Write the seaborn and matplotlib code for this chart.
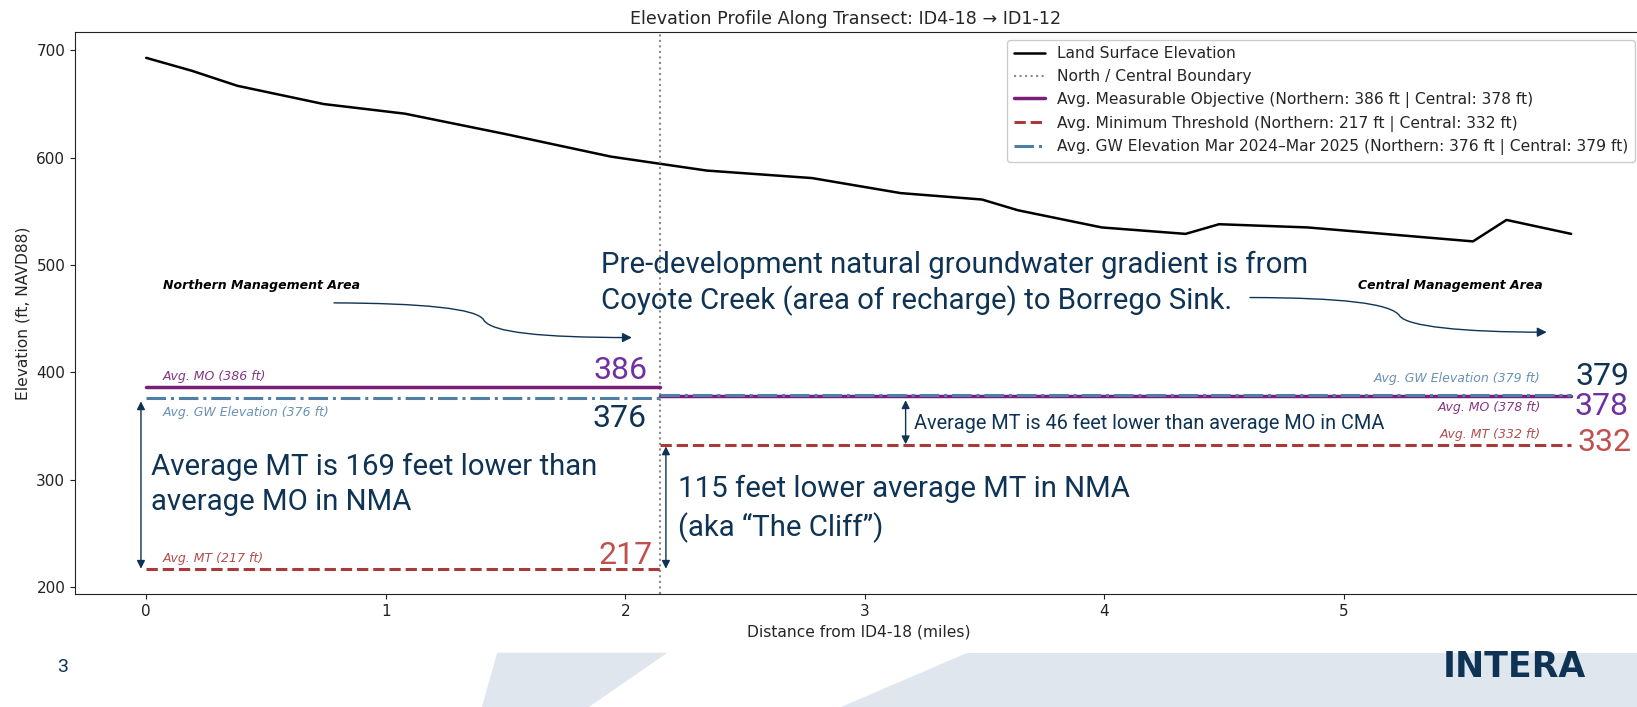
import matplotlib
matplotlib.use("Agg")
import matplotlib.pyplot as plt
import seaborn as sns
from matplotlib.patches import FancyArrowPatch, Polygon
from matplotlib.path import Path

# ---------------- data ----------------
distance_mi = [0.0, 0.19, 0.38, 0.74, 1.08, 1.50, 1.94, 2.34, 2.78, 3.15,
               3.49, 3.64, 3.99, 4.34, 4.48, 4.85, 5.54, 5.68, 5.95]
land_elev_ft = [693, 681, 667, 650, 641, 622, 601, 588, 581, 567,
                561, 551, 535, 529, 538, 535, 522, 542, 529]
boundary_mi = 2.145
areas = ["Northern", "Central"]
avg_mo = [386, 378]
avg_mt = [217, 332]
avg_gw = [376, 379]
x_ticks = [0, 1, 2, 3, 4, 5]
y_ticks = [200, 300, 400, 500, 600, 700]

# ---------------- style ----------------
sns.set_style("ticks")
plt.rcParams["font.family"] = ["DejaVu Sans"]

MO_C = "#7a1e78"
MT_C = "#a83a3a"
GW_C = "#4f7fa6"
NAVY = "#0E3354"
BIG_PURPLE = "#7030A0"
BIG_RED = "#C0504D"
SLIDE_FONT = ["Roboto", "DejaVu Sans"]

fig = plt.figure(figsize=(16.37, 7.07), dpi=100)
fig.patch.set_facecolor("white")

# slide decorations
fig.patches.append(Polygon([[0.3037, 0.0768], [0.4078, 0.0768], [0.3597, 0.0], [0.2944, 0.0]],
                           closed=True, transform=fig.transFigure, facecolor="#DFE6EE",
                           edgecolor="none", zorder=0))
fig.patches.append(Polygon([[0.5905, 0.0768], [1.0, 0.0768], [1.0, 0.0], [0.5136, 0.0]],
                           closed=True, transform=fig.transFigure, facecolor="#DFE6EE",
                           edgecolor="none", zorder=0))
fig.text(0.925, 0.057, "INTERA", color=NAVY, fontsize=25, family=["DejaVu Sans"],
         fontweight="bold", ha="center", va="center")
fig.text(0.0382, 0.057, "3", color=NAVY, fontsize=14, family=SLIDE_FONT,
         ha="center", va="center")

ax = fig.add_axes([0.0458, 0.1594, 0.9575, 0.7949])
for s in ax.spines.values():
    s.set_color("#222222")

# land surface
sns.lineplot(x=distance_mi, y=land_elev_ft, ax=ax, color="black", lw=1.8,
             label="Land Surface Elevation")
ax.axvline(boundary_mi, color="#8a8a8a", ls=":", lw=1.5, label="North / Central Boundary")

x_start = [distance_mi[0], boundary_mi]
x_end = [boundary_mi, distance_mi[-1]]

mo_label = f"Avg. Measurable Objective ({areas[0]}: {avg_mo[0]} ft | {areas[1]}: {avg_mo[1]} ft)"
mt_label = f"Avg. Minimum Threshold ({areas[0]}: {avg_mt[0]} ft | {areas[1]}: {avg_mt[1]} ft)"
gw_label = f"Avg. GW Elevation Mar 2024\u2013Mar 2025 ({areas[0]}: {avg_gw[0]} ft | {areas[1]}: {avg_gw[1]} ft)"

for i in range(2):
    ax.plot([x_start[i], x_end[i]], [avg_mo[i], avg_mo[i]], color=MO_C, lw=2.5,
            label=mo_label if i == 0 else None)
for i in range(2):
    ax.plot([x_start[i], x_end[i]], [avg_mt[i], avg_mt[i]], color=MT_C, lw=2.2, ls="--",
            label=mt_label if i == 0 else None)
for i in range(2):
    ax.plot([x_start[i], x_end[i]], [avg_gw[i], avg_gw[i]], color=GW_C, lw=2.2, ls="-.",
            label=gw_label if i == 0 else None)

ax.set_xlim(-0.2975, 6.2475)
ax.set_ylim(193.2, 716.8)
ax.set_xticks(x_ticks)
ax.set_yticks(y_ticks)
ax.tick_params(labelsize=11, colors="#222222")
ax.set_xlabel("Distance from ID4-18 (miles)", fontsize=11.2)
ax.set_ylabel("Elevation (ft, NAVD88)", fontsize=11.2)
ax.set_title("Elevation Profile Along Transect: ID4-18 \u2192 ID1-12", fontsize=12.6, x=0.4917)

leg = ax.legend(loc="upper right", fontsize=11.2, frameon=True, framealpha=1,
                edgecolor="#cccccc")

# small italic labels on lines
lx_left = 0.067
lx_right = 5.823
ax.text(lx_left, avg_mo[0] + 9.7, f"Avg. MO ({avg_mo[0]} ft)", color=MO_C, alpha=0.9,
        fontsize=9, style="italic", va="center", ha="left")
ax.text(lx_left, avg_gw[0] - 13.5, f"Avg. GW Elevation ({avg_gw[0]} ft)", color=GW_C, alpha=0.85,
        fontsize=9, style="italic", va="center", ha="left")
ax.text(lx_left, avg_mt[0] + 9.5, f"Avg. MT ({avg_mt[0]} ft)", color=MT_C, alpha=0.9,
        fontsize=9, style="italic", va="center", ha="left")
ax.text(lx_right, avg_gw[1] + 15.2, f"Avg. GW Elevation ({avg_gw[1]} ft)", color=GW_C, alpha=0.85,
        fontsize=9, style="italic", va="center", ha="right")
ax.text(lx_right, avg_mo[1] - 10.5, f"Avg. MO ({avg_mo[1]} ft)", color=MO_C, alpha=0.9,
        fontsize=9, style="italic", va="center", ha="right")
ax.text(lx_right, avg_mt[1] + 10.3, f"Avg. MT ({avg_mt[1]} ft)", color=MT_C, alpha=0.9,
        fontsize=9, style="italic", va="center", ha="right")

ax.text(0.068, 481, "Northern Management Area", fontsize=9, fontweight="bold",
        style="italic", va="center", ha="left", color="black")
ax.text(5.831, 481, "Central Management Area", fontsize=9, fontweight="bold",
        style="italic", va="center", ha="right", color="black")

# big numbers (slide overlay)
BIG = 23
ax.text(2.095, 402, f"{avg_mo[0]}", color=BIG_PURPLE, fontsize=BIG, family=SLIDE_FONT,
        ha="right", va="center")
ax.text(2.087, 357, f"{avg_gw[0]}", color=NAVY, fontsize=BIG, family=SLIDE_FONT,
        ha="right", va="center")
ax.text(2.115, 229.6, f"{avg_mt[0]}", color=BIG_RED, fontsize=BIG, family=SLIDE_FONT,
        ha="right", va="center")
ax.text(5.967, 395.7, f"{avg_gw[1]}", color=NAVY, fontsize=BIG, family=SLIDE_FONT,
        ha="left", va="center")
ax.text(5.965, 367.8, f"{avg_mo[1]}", color=BIG_PURPLE, fontsize=BIG, family=SLIDE_FONT,
        ha="left", va="center")
ax.text(5.978, 334.2, f"{avg_mt[1]}", color=BIG_RED, fontsize=BIG, family=SLIDE_FONT,
        ha="left", va="center")

# annotation texts
ax.text(1.90, 482.6, "Pre-development natural groundwater gradient is from\n"
        "Coyote Creek (area of recharge) to Borrego Sink.", color=NAVY, fontsize=21.2,
        family=SLIDE_FONT, ha="left", va="center", linespacing=1.25)
ax.text(0.02, 295.8, "Average MT is 169 feet lower than\naverage MO in NMA", color=NAVY,
        fontsize=21.2, family=SLIDE_FONT, ha="left", va="center", linespacing=1.33)
ax.text(2.22, 272.5, "115 feet lower average MT in NMA\n(aka \u201cThe Cliff\u201d)", color=NAVY,
        fontsize=21.2, family=SLIDE_FONT, ha="left", va="center", linespacing=1.4)
ax.text(3.207, 352.3, "Average MT is 46 feet lower than average MO in CMA", color=NAVY,
        fontsize=14.3, family=SLIDE_FONT, ha="left", va="center")

# double arrows
def darrow(x, y0, y1):
    ax.annotate("", xy=(x, y0), xytext=(x, y1),
                arrowprops=dict(arrowstyle="<|-|>", color=NAVY, lw=1.0,
                                mutation_scale=12, shrinkA=0, shrinkB=0))

darrow(-0.022, 373, 217)
darrow(2.17, 331, 217)
darrow(3.171, 374, 333)

# curved arrows
def carrow(pts):
    codes = [Path.MOVETO] + [Path.CURVE4] * 6
    p = FancyArrowPatch(path=Path(pts, codes), arrowstyle="-|>", color=NAVY, lw=1.0,
                        mutation_scale=14, transform=ax.transData)
    ax.add_patch(p)

carrow([(0.784, 464.7), (1.143, 464.4), (1.385, 459.7), (1.410, 448.5),
        (1.444, 437.3), (1.645, 432.4), (2.028, 432.4)])
carrow([(4.609, 469.7), (4.985, 469.5), (5.202, 464.4), (5.235, 452.3),
        (5.269, 443.0), (5.486, 437.4), (5.848, 437.4)])

fig.savefig("out.png", dpi=100, facecolor="white")
